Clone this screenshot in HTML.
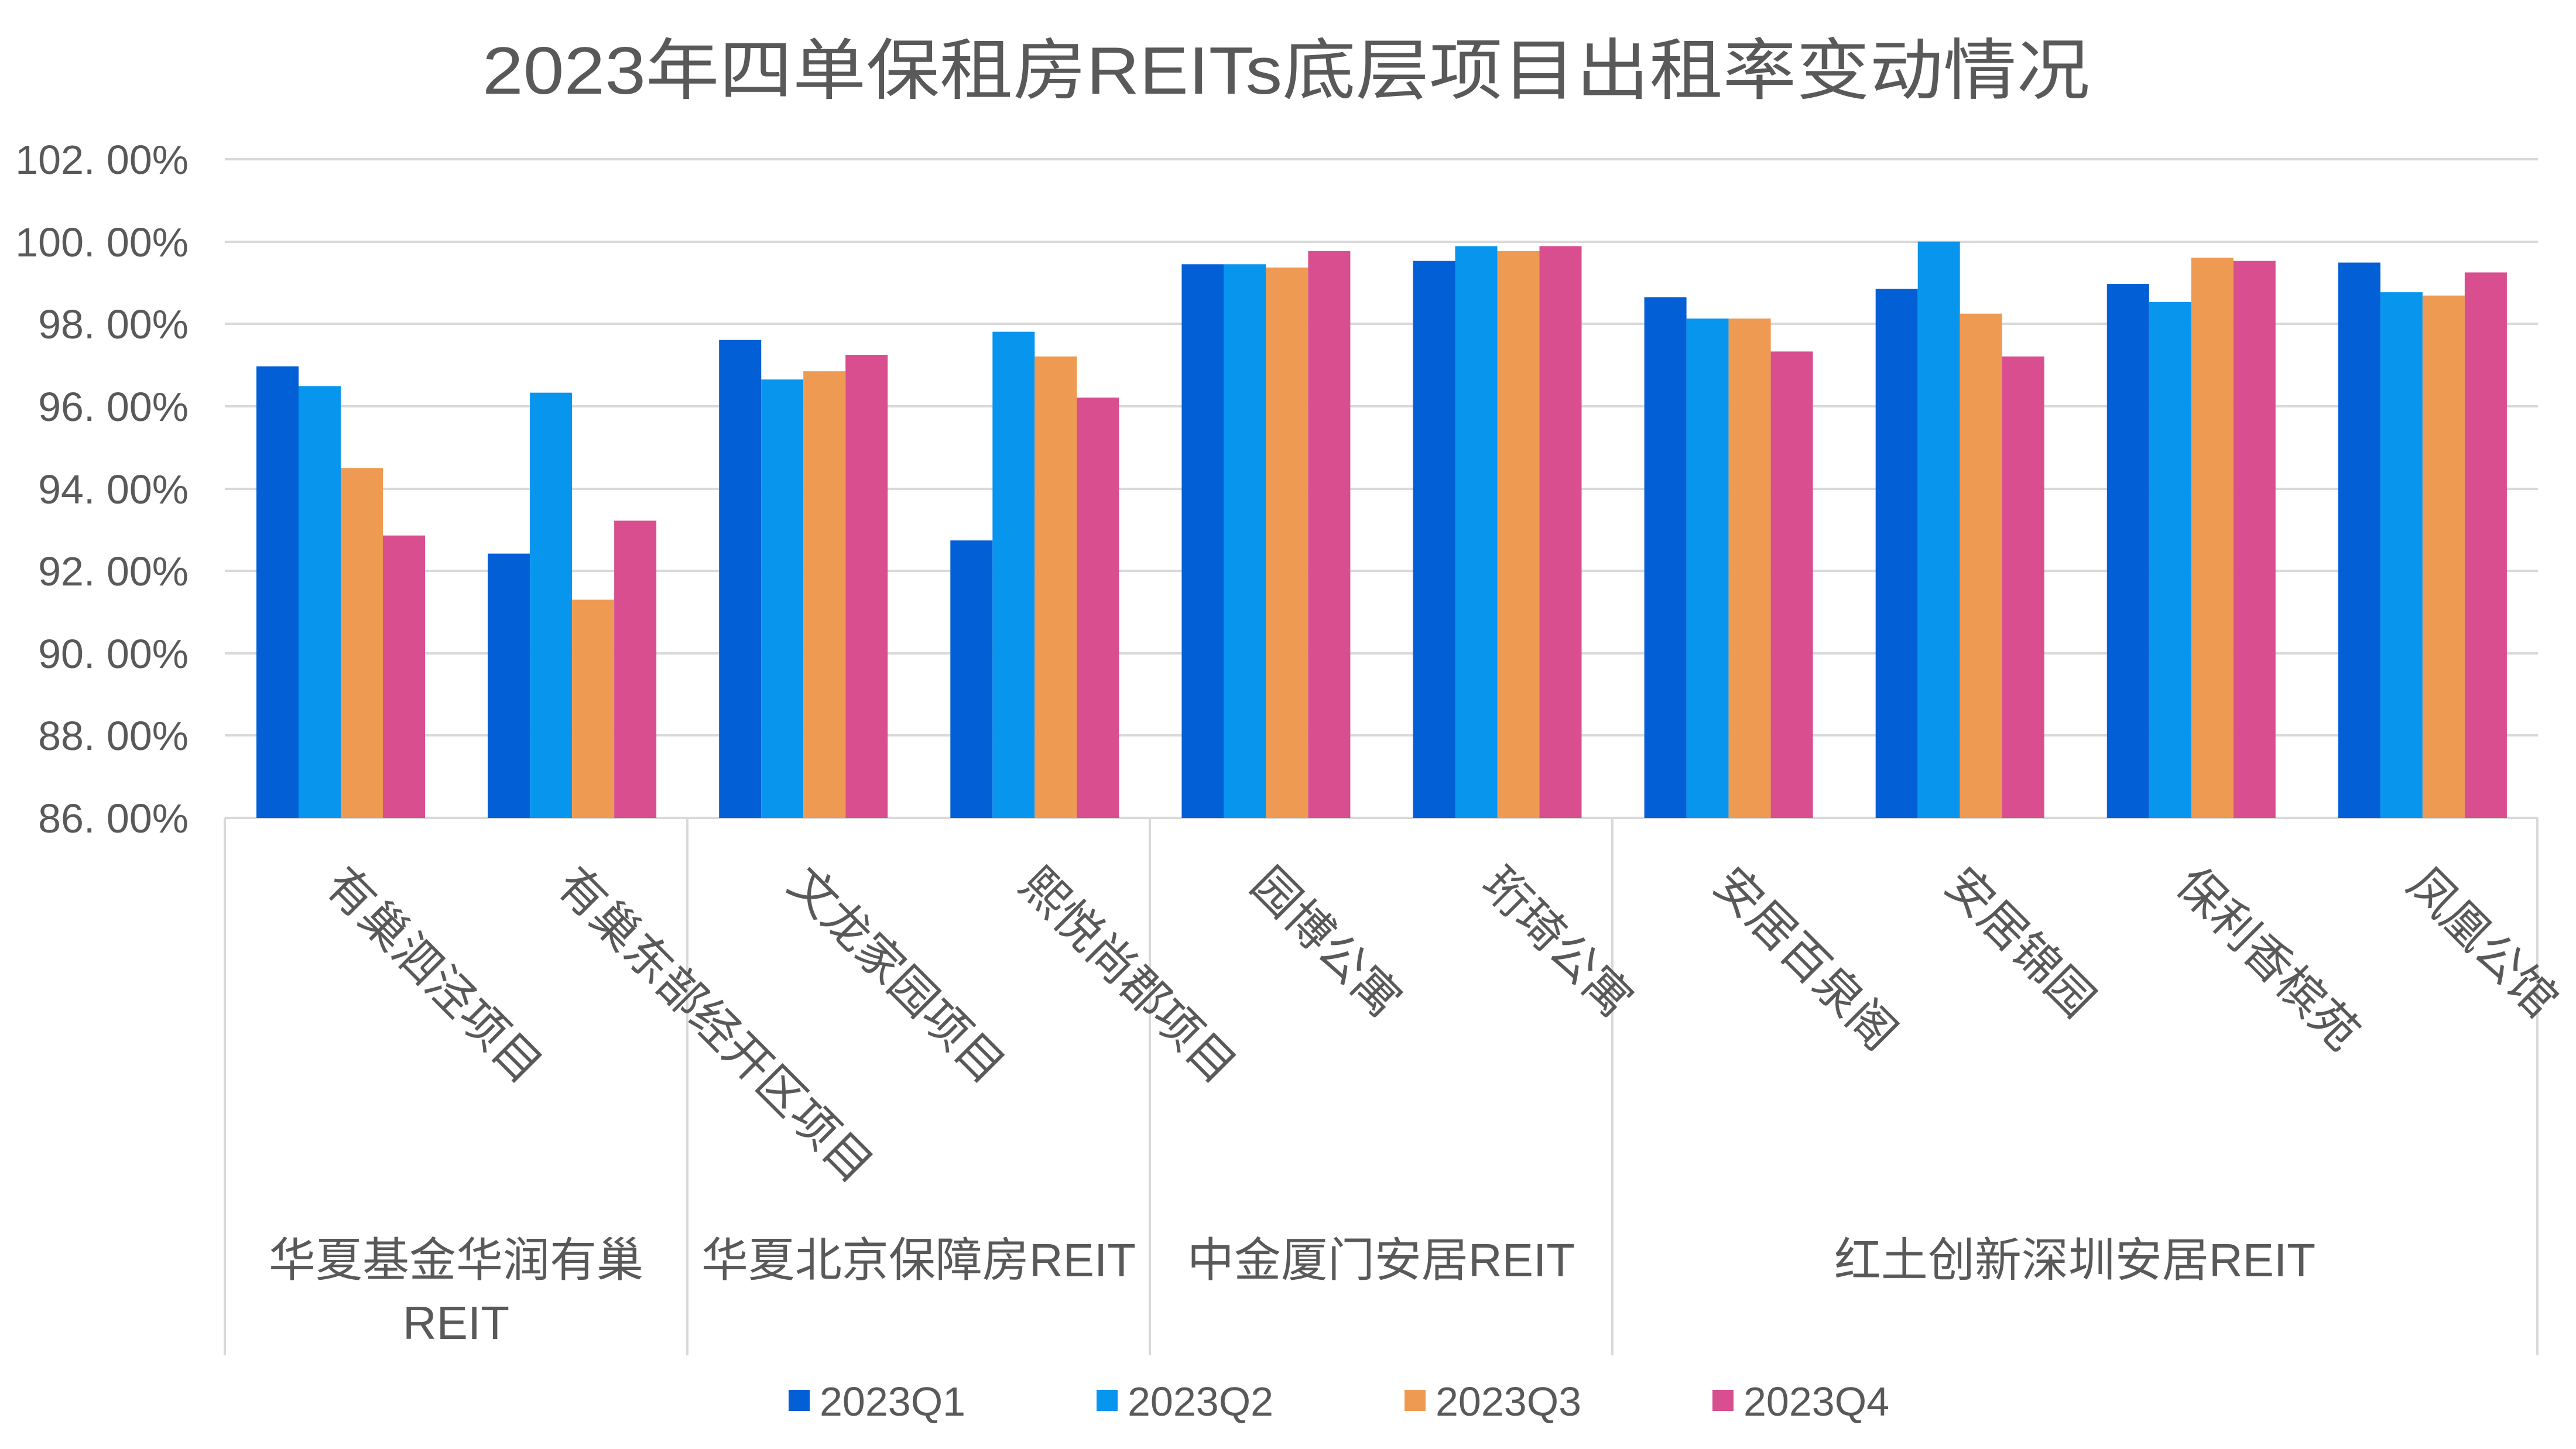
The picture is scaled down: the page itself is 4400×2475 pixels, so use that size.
<!DOCTYPE html>
<html><head><meta charset="utf-8"><style>
html,body{margin:0;padding:0;background:#fff;}
svg{display:block;}
text{font-family:"Liberation Sans","Noto Sans CJK SC",sans-serif;fill:#595959;}
</style></head><body>
<svg width="4400" height="2475" viewBox="0 0 4400 2475" xmlns="http://www.w3.org/2000/svg">
<rect width="4400" height="2475" fill="#fff"/>
<text x="2197" y="160" font-size="114" text-anchor="middle" textLength="2746" lengthAdjust="spacingAndGlyphs">2023年四单保租房REITs底层项目出租率变动情况</text>
<g stroke="#d9d9d9" stroke-width="4">
<line x1="384" x2="4335" y1="272" y2="272"/>
<line x1="384" x2="4335" y1="413" y2="413"/>
<line x1="384" x2="4335" y1="553" y2="553"/>
<line x1="384" x2="4335" y1="694" y2="694"/>
<line x1="384" x2="4335" y1="835" y2="835"/>
<line x1="384" x2="4335" y1="975" y2="975"/>
<line x1="384" x2="4335" y1="1116" y2="1116"/>
<line x1="384" x2="4335" y1="1256" y2="1256"/>
<line x1="384" x2="4335" y1="1397" y2="1397"/>
<line x1="384" x2="384" y1="1397" y2="2315"/>
<line x1="1174" x2="1174" y1="1397" y2="2315"/>
<line x1="1964" x2="1964" y1="1397" y2="2315"/>
<line x1="2754" x2="2754" y1="1397" y2="2315"/>
<line x1="4334" x2="4334" y1="1397" y2="2315"/>
</g>
<g font-size="70" text-anchor="end">
<text x="322" y="297">102. 00%</text>
<text x="322" y="438">100. 00%</text>
<text x="322" y="578">98. 00%</text>
<text x="322" y="719">96. 00%</text>
<text x="322" y="860">94. 00%</text>
<text x="322" y="1000">92. 00%</text>
<text x="322" y="1141">90. 00%</text>
<text x="322" y="1281">88. 00%</text>
<text x="322" y="1422">86. 00%</text>
</g>
<g id="bars"></g>
<g id="labels" font-size="80"></g>
<g font-size="80" text-anchor="middle">
<text x="779" y="2180">华夏基金华润有巢</text>
<text x="779" y="2287">REIT</text>
<text x="1569" y="2180">华夏北京保障房REIT</text>
<text x="2359" y="2180">中金厦门安居REIT</text>
<text x="3544" y="2180">红土创新深圳安居REIT</text>
</g>
<g font-size="70">
<rect x="1347" y="2374" width="36" height="36" fill="#035fd6"/><text x="1400" y="2418">2023Q1</text>
<rect x="1873" y="2374" width="36" height="36" fill="#0895ee"/><text x="1926" y="2418">2023Q2</text>
<rect x="2399" y="2374" width="36" height="36" fill="#ee9a52"/><text x="2452" y="2418">2023Q3</text>
<rect x="2925" y="2374" width="36" height="36" fill="#d84e8f"/><text x="2978" y="2418">2023Q4</text>
</g>
<script>
var data=[[96.97,96.49,94.50,92.86],[92.42,96.33,91.30,93.22],[97.61,96.65,96.85,97.25],[92.74,97.81,97.21,96.21],[99.45,99.45,99.37,99.77],[99.53,99.89,99.77,99.89],[98.65,98.13,98.13,97.33],[98.85,100.0,98.25,97.21],[98.97,98.53,99.61,99.53],[99.49,98.77,98.69,99.25]];
var cols=["#035fd6","#0895ee","#ee9a52","#d84e8f"];
var names=["有巢泗泾项目","有巢东部经开区项目","文龙家园项目","熙悦尚郡项目","园博公寓","珩琦公寓","安居百泉阁","安居锦园","保利香槟苑","凤凰公馆"];
var ns="http://www.w3.org/2000/svg",g=document.getElementById("bars"),lg=document.getElementById("labels");
var cw=395.1;
for(var i=0;i<10;i++){for(var j=0;j<4;j++){var v=data[i][j];var y=1397-(v-86)*70.31;var r=document.createElementNS(ns,"rect");r.setAttribute("x",384+i*cw+54+j*72);r.setAttribute("y",y);r.setAttribute("width",72);r.setAttribute("height",1397-y);r.setAttribute("fill",cols[j]);g.appendChild(r);}
var cx=384+i*cw+cw/2+20;var t=document.createElementNS(ns,"text");t.setAttribute("transform","translate("+cx+",1466) rotate(45)");t.setAttribute("x",0);t.setAttribute("y",70);t.textContent=names[i];lg.appendChild(t);}
</script>
</svg>
</body></html>
